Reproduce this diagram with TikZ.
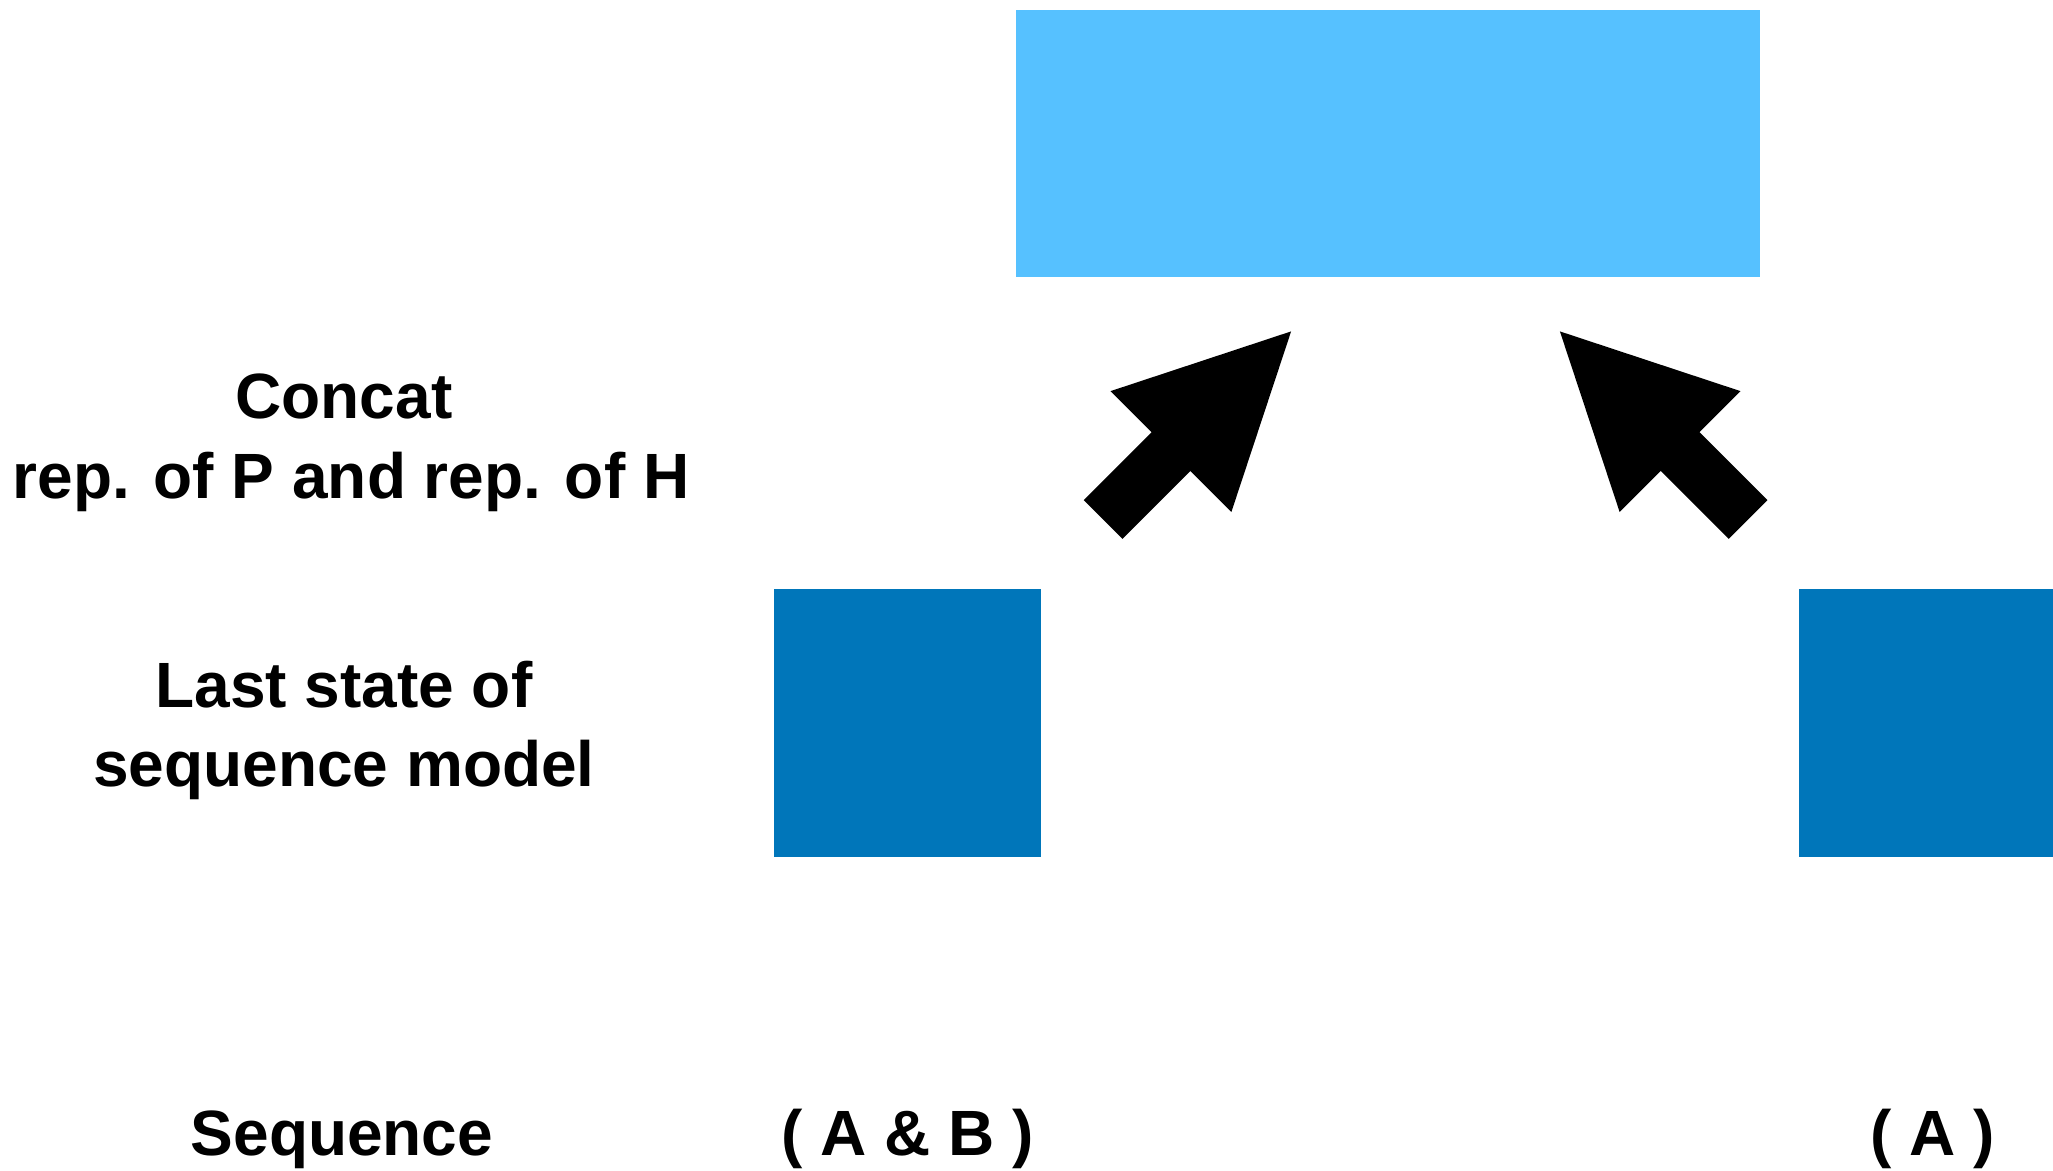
\documentclass[tikz,border=0pt]{standalone}
\usepackage{fontspec}
\setmainfont{Liberation Sans}
\definecolor{sky}{RGB}{86,193,255}
\definecolor{ocean}{RGB}{0,118,186}
\begin{document}
\begin{tikzpicture}[x=0.5pt,y=-0.5pt,
  lbl/.style={font=\fontsize{32}{38}\selectfont\bfseries, inner sep=0pt, anchor=base},
  block/.style={inner sep=0pt, outer sep=0pt, draw=none},
  blockarrow/.style={fill=black}]
\useasboundingbox (0,0) rectangle (2053,1171);
\clip (0,0) rectangle (2053,1171);

% boxes
\node[block, fill=sky, minimum width=372pt, minimum height=133.5pt] (concat) at (1388,143.5) {};
\node[block, fill=ocean, minimum width=133.5pt, minimum height=133.5pt] (stateP) at (907.5,723) {};
\node[block, fill=ocean, minimum width=133.5pt, minimum height=133.5pt] (stateH) at (1932.5,723) {};

% block arrows (tail centre, direction)
\coordinate (tailP) at (1103,519.5);
\coordinate (tailH) at (1748,519.5);
\fill[blockarrow, shift={(tailP)}, rotate=45]
  (0,27.4) -- (96,27.4) -- (96,85.5) -- (266,0) -- (96,-85.5) -- (96,-27.4) -- (0,-27.4) -- cycle;
\fill[blockarrow, shift={(tailH)}, rotate=135]
  (0,27.4) -- (96,27.4) -- (96,85.5) -- (266,0) -- (96,-85.5) -- (96,-27.4) -- (0,-27.4) -- cycle;

% labels
\node[lbl] (concatA) at (344,419) {Concat};
\node[lbl] (concatB) at (351,499) {rep. of P and rep. of H};
\node[lbl] (lastA) at (344,708) {Last state of};
\node[lbl] (lastB) at (344,786) {sequence model};
\node[lbl] (seq) at (342,1155) {Sequence};
\node[lbl] (seqAB) at (907.5,1155) {( A \& B )};
\node[lbl] (seqA) at (1932.5,1155) {( A )};
\end{tikzpicture}
\end{document}
